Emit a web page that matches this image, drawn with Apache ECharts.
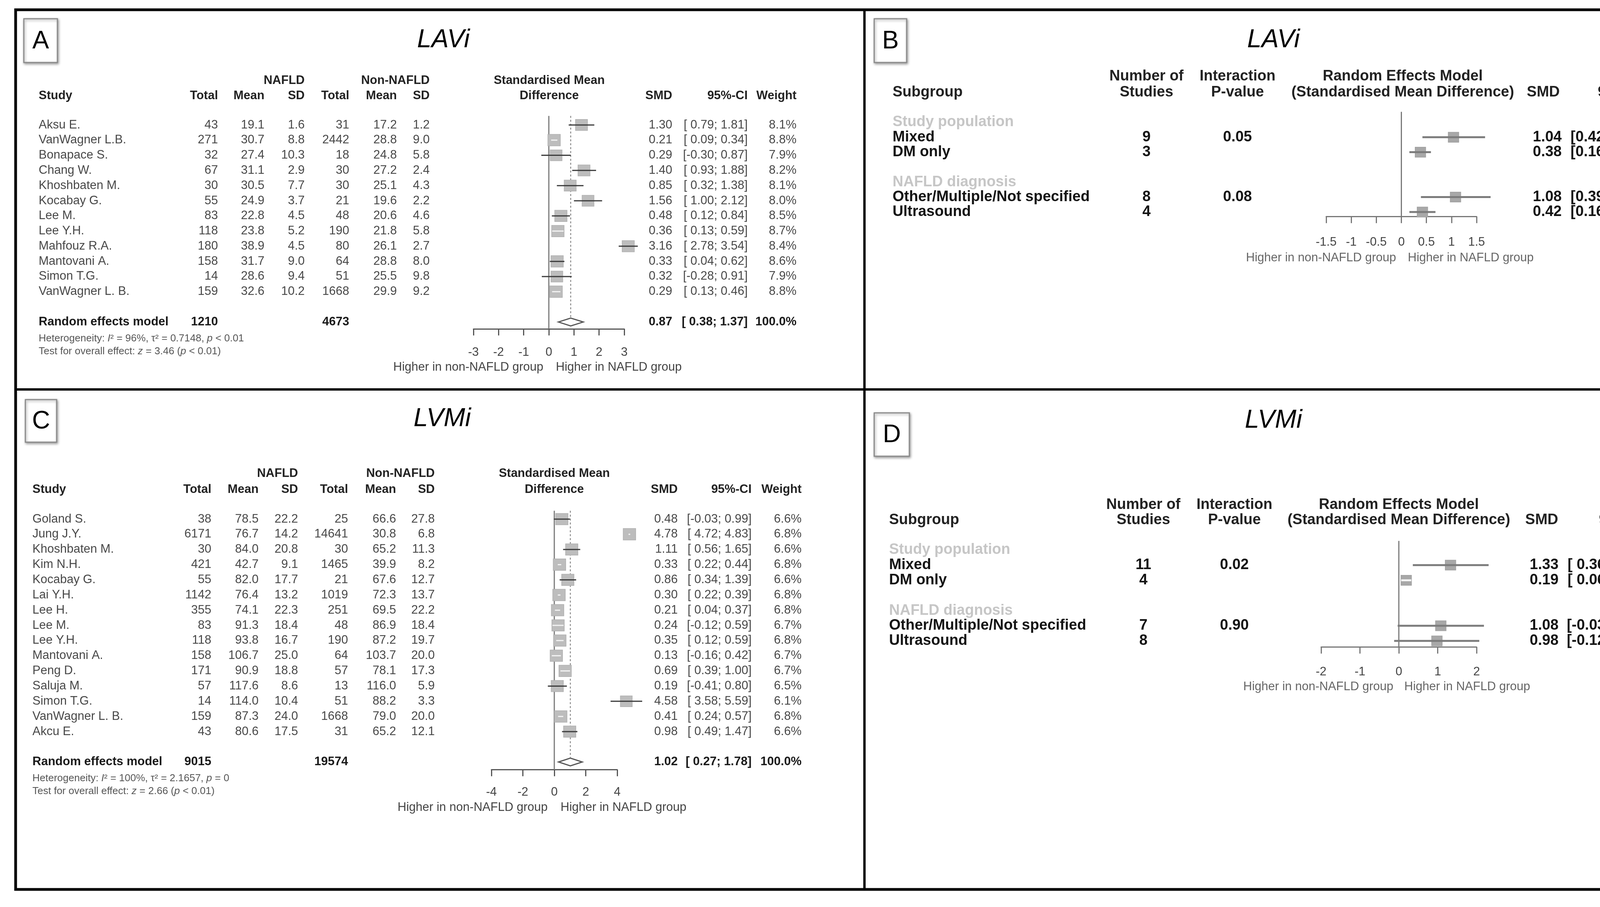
<!DOCTYPE html>
<html><head><meta charset="utf-8">
<script src="https://cdn.jsdelivr.net/npm/echarts@6/dist/echarts.min.js"></script>
<style>html,body{margin:0;padding:0;background:#fff}#c{width:4355px;height:2322px}</style>
</head><body><div id="c"></div>
<script>
// ---------- Panel A (LAVi) ----------
const studiesA = ['Aksu E.','VanWagner L.B.','Bonapace S.','Chang W.','Khoshbaten M.','Kocabay G.','Lee M.','Lee Y.H.','Mahfouz R.A.','Mantovani A.','Simon T.G.','VanWagner L. B.'];
const nTotA = [43,271,32,67,30,55,83,118,180,158,14,159];
const nMeanA = [19.1,30.7,27.4,31.1,30.5,24.9,22.8,23.8,38.9,31.7,28.6,32.6];
const nSdA = [1.6,8.8,10.3,2.9,7.7,3.7,4.5,5.2,4.5,9.0,9.4,10.2];
const cTotA = [31,2442,18,30,30,21,48,190,80,64,51,1668];
const cMeanA = [17.2,28.8,24.8,27.2,25.1,19.6,20.6,21.8,26.1,28.8,25.5,29.9];
const cSdA = [1.2,9.0,5.8,2.4,4.3,2.2,4.6,5.8,2.7,8.0,9.8,9.2];
const smdA = [1.30,0.21,0.29,1.40,0.85,1.56,0.48,0.36,3.16,0.33,0.32,0.29];
const loA = [0.79,0.09,-0.30,0.93,0.32,1.00,0.12,0.13,2.78,0.04,-0.28,0.13];
const hiA = [1.81,0.34,0.87,1.88,1.38,2.12,0.84,0.59,3.54,0.62,0.91,0.46];
const wA = [8.1,8.8,7.9,8.2,8.1,8.0,8.5,8.7,8.4,8.6,7.9,8.8];
const sumA = {nTot:1210, cTot:4673, smd:0.87, lo:0.38, hi:1.37, w:100.0};
const hetA = {i2:'96%', tau2:'0.7148', p:'< 0.01', z:'3.46', pz:'< 0.01'};
const ticksA = {min:-3, max:3, step:1};

// ---------- Panel C (LVMi) ----------
const studiesC = ['Goland S.','Jung J.Y.','Khoshbaten M.','Kim N.H.','Kocabay G.','Lai Y.H.','Lee H.','Lee M.','Lee Y.H.','Mantovani A.','Peng D.','Saluja M.','Simon T.G.','VanWagner L. B.','Akcu E.'];
const nTotC = [38,6171,30,421,55,1142,355,83,118,158,171,57,14,159,43];
const nMeanC = [78.5,76.7,84.0,42.7,82.0,76.4,74.1,91.3,93.8,106.7,90.9,117.6,114.0,87.3,80.6];
const nSdC = [22.2,14.2,20.8,9.1,17.7,13.2,22.3,18.4,16.7,25.0,18.8,8.6,10.4,24.0,17.5];
const cTotC = [25,14641,30,1465,21,1019,251,48,190,64,57,13,51,1668,31];
const cMeanC = [66.6,30.8,65.2,39.9,67.6,72.3,69.5,86.9,87.2,103.7,78.1,116.0,88.2,79.0,65.2];
const cSdC = [27.8,6.8,11.3,8.2,12.7,13.7,22.2,18.4,19.7,20.0,17.3,5.9,3.3,20.0,12.1];
const smdC = [0.48,4.78,1.11,0.33,0.86,0.30,0.21,0.24,0.35,0.13,0.69,0.19,4.58,0.41,0.98];
const loC = [-0.03,4.72,0.56,0.22,0.34,0.22,0.04,-0.12,0.12,-0.16,0.39,-0.41,3.58,0.24,0.49];
const hiC = [0.99,4.83,1.65,0.44,1.39,0.39,0.37,0.59,0.59,0.42,1.00,0.80,5.59,0.57,1.47];
const wC = [6.6,6.8,6.6,6.8,6.6,6.8,6.8,6.7,6.8,6.7,6.7,6.5,6.1,6.8,6.6];
const sumC = {nTot:9015, cTot:19574, smd:1.02, lo:0.27, hi:1.78, w:100.0};
const hetC = {i2:'100%', tau2:'2.1657', p:'= 0', z:'2.66', pz:'< 0.01'};
const ticksC = {min:-4, max:4, step:2};

// ---------- Panel B (LAVi subgroups) ----------
const groupsB = ['Study population','NAFLD diagnosis'];
const subB = ['Mixed','DM only','Other/Multiple/Not specified','Ultrasound'];
const nStudB = [9,3,8,4];
const pIntB = ['0.05','','0.08',''];
const smdB = [1.04,0.38,1.08,0.42];
const loB = [0.42,0.16,0.39,0.16];
const hiB = [1.67,0.59,1.78,0.68];
const ticksB = {min:-1.5, max:1.5, step:0.5};

// ---------- Panel D (LVMi subgroups) ----------
const groupsD = ['Study population','NAFLD diagnosis'];
const subD = ['Mixed','DM only','Other/Multiple/Not specified','Ultrasound'];
const nStudD = [11,4,7,8];
const pIntD = ['0.02','','0.90',''];
const smdD = [1.33,0.19,1.08,0.98];
const loD = [0.36,0.06,-0.03,-0.12];
const hiD = [2.31,0.32,2.19,2.07];
const ticksD = {min:-2, max:2, step:1};

const FF = '"Liberation Sans", Arial, Helvetica, sans-serif';
const subRows = [1,2,5,6];   // row index of each subgroup in panels B / D
const groupRows = [0,4];

const chart = echarts.init(document.getElementById('c'));

function xAx(grid, t, margin, col) {
  return {type:'value', gridIndex:grid, min:t.min, max:t.max, interval:t.step,
    axisLine:{show:true, onZero:false, lineStyle:{color:col, width:3}},
    axisTick:{show:true, inside:false, length:17, lineStyle:{color:col, width:3}},
    axisLabel:{margin:margin, fontSize:31, color:'#444', fontFamily:FF},
    splitLine:{show:false}};
}
function yAx(grid, min, max) {
  return {type:'value', gridIndex:grid, inverse:true, min:min, max:max, show:false};
}

function forestRender(o) {
  return function (params, api) {
    const est = api.value(0), row = api.value(1), lo = api.value(2), hi = api.value(3), w = api.value(4);
    const p = api.coord([est, row]);
    const pl = api.coord([lo, row]);
    const ph = api.coord([hi, row]);
    const s = o.base * Math.sqrt(w / o.wmax);
    const sh = s * o.hr;
    const inside = pl[0] >= p[0] - s / 2 && ph[0] <= p[0] + s / 2;
    return {type:'group', children:[
      {type:'rect', shape:{x:p[0]-s/2, y:p[1]-sh/2, width:s, height:sh}, style:{fill:o.sq, stroke:o.sqs, lineWidth:1.5}},
      {type:'line', shape:{x1:pl[0], y1:p[1], x2:ph[0], y2:p[1]}, style:{stroke: inside ? '#f4f4f4' : o.line, lineWidth:o.lw}}
    ]};
  };
}
function refRender(params, api) {
  const a = api.coord([api.value(0), api.value(1)]);
  const b = api.coord([api.value(0), api.value(2)]);
  const dashed = api.value(3) === 1;
  return {type:'line', shape:{x1:a[0], y1:a[1], x2:b[0], y2:b[1]},
    style:{stroke: dashed ? '#8a8a8a' : '#7a7a7a', lineWidth: dashed ? 2.5 : 3, lineDash: dashed ? [5,5] : null}};
}
function diamondRender(params, api) {
  const c = api.coord([api.value(0), api.value(1)]);
  const l = api.coord([api.value(2), api.value(1)]);
  const h = api.coord([api.value(3), api.value(1)]);
  return {type:'polygon', shape:{points:[[l[0],c[1]],[c[0],c[1]-10],[h[0],c[1]],[c[0],c[1]+10]]},
    style:{fill:'#ffffff', stroke:'#555', lineWidth:3}};
}

const rowsA = smdA.map((v,i)=>[v, i, loA[i], hiA[i], wA[i]]);
const rowsC = smdC.map((v,i)=>[v, i, loC[i], hiC[i], wC[i]]);
const rowsB = smdB.map((v,i)=>[v, subRows[i], loB[i], hiB[i], 1]);
const rowsD = smdD.map((v,i)=>[v, subRows[i], loD[i], hiD[i], 1]);
const sumRowA = studiesA.length + 1;
const sumRowC = studiesC.length + 1;

const yA = [-0.6, 13.45], yC = [-0.55, 16.5], yB = [-0.7, 6.3], yD = [-0.6, 6.4];

chart.setOption({
  animation:false,
  backgroundColor:'#ffffff',
  grid:[
    {left:1212, top:296.7, width:386, height:545.1},
    {left:1258, top:1307.6, width:322, height:662.6},
    {left:3395, top:286.2, width:385, height:268.1},
    {left:3382, top:1384.7, width:398, height:271.6}
  ],
  xAxis:[xAx(0,ticksA,45,'#555'), xAx(1,ticksC,43,'#555'), xAx(2,ticksB,51,'#777'), xAx(3,ticksD,49,'#777')],
  yAxis:[yAx(0,yA[0],yA[1]), yAx(1,yC[0],yC[1]), yAx(2,yB[0],yB[1]), yAx(3,yD[0],yD[1])],
  series:[
    {type:'custom', xAxisIndex:0, yAxisIndex:0, z:1, renderItem:refRender, data:[[0,yA[0],yA[1],0],[sumA.smd,yA[0],sumRowA-0.3,1]]},
    {type:'custom', xAxisIndex:0, yAxisIndex:0, z:3, renderItem:forestRender({base:32, wmax:8.8, hr:0.92, sq:'#bdbdbd', sqs:'#b0b0b0', line:'#3a3a3a', lw:3}), data:rowsA},
    {type:'custom', xAxisIndex:0, yAxisIndex:0, z:3, renderItem:diamondRender, data:[[sumA.smd, sumRowA, sumA.lo, sumA.hi]]},
    {type:'custom', xAxisIndex:1, yAxisIndex:1, z:1, renderItem:refRender, data:[[0,yC[0],yC[1],0],[sumC.smd,yC[0],sumRowC-0.3,1]]},
    {type:'custom', xAxisIndex:1, yAxisIndex:1, z:3, renderItem:forestRender({base:32, wmax:6.8, hr:0.92, sq:'#bdbdbd', sqs:'#b0b0b0', line:'#3a3a3a', lw:3}), data:rowsC},
    {type:'custom', xAxisIndex:1, yAxisIndex:1, z:3, renderItem:diamondRender, data:[[sumC.smd, sumRowC, sumC.lo, sumC.hi]]},
    {type:'custom', xAxisIndex:2, yAxisIndex:2, z:1, renderItem:refRender, data:[[0,yB[0],yB[1],0]]},
    {type:'custom', xAxisIndex:2, yAxisIndex:2, z:3, renderItem:forestRender({base:27, wmax:1, hr:0.95, sq:'#a8a8a8', sqs:'#a0a0a0', line:'#7c7c7c', lw:5}), data:rowsB},
    {type:'custom', xAxisIndex:3, yAxisIndex:3, z:1, renderItem:refRender, data:[[0,yD[0],yD[1],0]]},
    {type:'custom', xAxisIndex:3, yAxisIndex:3, z:3, renderItem:forestRender({base:27, wmax:1, hr:0.95, sq:'#a8a8a8', sqs:'#a0a0a0', line:'#7c7c7c', lw:5}), data:rowsD}
  ]
});

// ---------- texts ----------
function rowY(g, r) { return chart.convertToPixel({gridIndex:g}, [0, r])[1]; }
function T(text, x, y, o) {
  o = o || {};
  return {type:'text', silent:true, z:10, style:{text:String(text), x:x, y:y,
    fill:o.fill || '#484848',
    font:(o.italic?'italic ':'') + (o.bold?'bold ':'') + (o.size||31) + 'px ' + FF,
    align:o.align || 'left', verticalAlign:'middle'}};
}
function R(parts, x, y, size, fill) {
  let txt = '';
  parts.forEach((p,i)=>{ txt += '{' + (p[1] ? 'i' : 'n') + '|' + p[0] + '}'; });
  return {type:'text', silent:true, z:10, style:{text:txt, x:x, y:y, verticalAlign:'middle', align:'left',
    rich:{n:{font:size+'px '+FF, fill:fill}, i:{font:'italic '+size+'px '+FF, fill:fill}}}};
}
const f1 = v => v.toFixed(1);
const f2 = v => v.toFixed(2);
const ci = (lo, hi, pad) => '[' + (pad && lo >= 0 ? ' ' : '') + f2(lo) + '; ' + f2(hi) + ']';

const G = [];
// frame
G.push({type:'rect', z:20, silent:true, shape:{x:40, y:25, width:4272, height:2252}, style:{fill:'none', stroke:'#000', lineWidth:7}});
G.push({type:'line', z:20, silent:true, shape:{x1:2213, y1:25, x2:2213, y2:2277}, style:{stroke:'#000', lineWidth:6}});
G.push({type:'line', z:20, silent:true, shape:{x1:40, y1:997, x2:4312, y2:997}, style:{stroke:'#000', lineWidth:6}});
// letter boxes
function box(letter, x, y, w, h) {
  G.push({type:'rect', z:15, silent:true, shape:{x:x, y:y, width:w, height:h},
    style:{fill:'#fff', stroke:'#8a8a8a', lineWidth:3, shadowBlur:6, shadowColor:'rgba(0,0,0,0.35)', shadowOffsetX:2, shadowOffsetY:3}});
  G.push(Object.assign(T(letter, x + w/2, y + h/2 + 2, {size:64, fill:'#000', align:'center'}), {z:16}));
}
box('A', 61, 48, 86, 112);
box('B', 2238, 48, 83, 112);
box('C', 65, 1023, 80, 109);
box('D', 2238, 1057, 90, 111);
// titles
G.push(T('LAVi', 1135, 103, {size:66, italic:true, fill:'#000', align:'center'}));
G.push(T('LVMi', 1132, 1073, {size:66, italic:true, fill:'#000', align:'center'}));
G.push(T('LAVi', 3260, 103, {size:66, italic:true, fill:'#000', align:'center'}));
G.push(T('LVMi', 3260, 1077, {size:66, italic:true, fill:'#000', align:'center'}));

function studyPanel(g, P) {
  const H = {bold:true, fill:'#222'};
  const hr = (o) => Object.assign({}, H, o);
  G.push(T('NAFLD', P.x.sd1, P.h1, hr({align:'right'})));
  G.push(T('Non-NAFLD', P.x.sd2, P.h1, hr({align:'right'})));
  G.push(T('Standardised Mean', P.x.mid, P.h1, hr({align:'center'})));
  G.push(T('Study', P.x.name, P.h2, H));
  G.push(T('Total', P.x.tot1, P.h2, hr({align:'right'})));
  G.push(T('Mean', P.x.mean1, P.h2, hr({align:'right'})));
  G.push(T('SD', P.x.sd1, P.h2, hr({align:'right'})));
  G.push(T('Total', P.x.tot2, P.h2, hr({align:'right'})));
  G.push(T('Mean', P.x.mean2, P.h2, hr({align:'right'})));
  G.push(T('SD', P.x.sd2, P.h2, hr({align:'right'})));
  G.push(T('Difference', P.x.mid, P.h2, hr({align:'center'})));
  G.push(T('SMD', P.x.smd, P.h2, hr({align:'right'})));
  G.push(T('95%-CI', P.x.ci, P.h2, hr({align:'right'})));
  G.push(T('Weight', P.x.w, P.h2, hr({align:'right'})));
  const D = P.d;
  D.names.forEach((nm, i) => {
    const y = rowY(g, i);
    G.push(T(nm, P.x.name, y));
    G.push(T(D.nt[i], P.x.tot1, y, {align:'right'}));
    G.push(T(f1(D.nm[i]), P.x.mean1, y, {align:'right'}));
    G.push(T(f1(D.ns[i]), P.x.sd1, y, {align:'right'}));
    G.push(T(D.ct[i], P.x.tot2, y, {align:'right'}));
    G.push(T(f1(D.cm[i]), P.x.mean2, y, {align:'right'}));
    G.push(T(f1(D.cs[i]), P.x.sd2, y, {align:'right'}));
    G.push(T(f2(D.smd[i]), P.x.smd, y, {align:'right'}));
    G.push(T(ci(D.lo[i], D.hi[i], true), P.x.ci, y, {align:'right'}));
    G.push(T(f1(D.w[i]) + '%', P.x.w, y, {align:'right'}));
  });
  const sr = D.names.length + 1;
  const ys = rowY(g, sr);
  const B = {bold:true, fill:'#1a1a1a'};
  G.push(T('Random effects model', P.x.name, ys, B));
  G.push(T(D.sum.nTot, P.x.tot1, ys, Object.assign({align:'right'}, B)));
  G.push(T(D.sum.cTot, P.x.tot2, ys, Object.assign({align:'right'}, B)));
  G.push(T(f2(D.sum.smd), P.x.smd, ys, Object.assign({align:'right'}, B)));
  G.push(T(ci(D.sum.lo, D.sum.hi, true), P.x.ci, ys, Object.assign({align:'right'}, B)));
  G.push(T(f1(D.sum.w) + '%', P.x.w, ys, Object.assign({align:'right'}, B)));
  const h = D.het;
  G.push(R([['Heterogeneity: '],['I',1],['² = ' + h.i2 + ', τ² = ' + h.tau2 + ', '],['p',1],[' ' + h.p]], P.x.name, ys + 42, 26, '#555'));
  G.push(R([['Test for overall effect: '],['z',1],[' = ' + h.z + ' ('],['p',1],[' ' + h.pz + ')']], P.x.name, ys + 75, 26, '#555'));
  G.push(T('Higher in non-NAFLD group', P.x.hl, P.hy, {align:'right', fill:'#444'}));
  G.push(T('Higher in NAFLD group', P.x.hr, P.hy, {fill:'#444'}));
}

studyPanel(0, {h1:206, h2:245, hy:940,
  x:{name:99, tot1:558, mean1:677, sd1:780, tot2:894, mean2:1016, sd2:1100, mid:1406, smd:1721, ci:1914, w:2039, hl:1391, hr:1423},
  d:{names:studiesA, nt:nTotA, nm:nMeanA, ns:nSdA, ct:cTotA, cm:cMeanA, cs:cSdA, smd:smdA, lo:loA, hi:hiA, w:wA, sum:sumA, het:hetA}});
studyPanel(1, {h1:1212, h2:1253, hy:2067,
  x:{name:83, tot1:541, mean1:662, sd1:763, tot2:891, mean2:1014, sd2:1113, mid:1419, smd:1735, ci:1924, w:2052, hl:1402, hr:1435},
  d:{names:studiesC, nt:nTotC, nm:nMeanC, ns:nSdC, ct:cTotC, cm:cMeanC, cs:cSdC, smd:smdC, lo:loC, hi:hiC, w:wC, sum:sumC, het:hetC}});

function subPanel(g, P) {
  const H = {bold:true, fill:'#222', size:38};
  const hc = (o) => Object.assign({}, H, o);
  G.push(T('Number of', P.x.n, P.h1, hc({align:'center'})));
  G.push(T('Interaction', P.x.p, P.h1, hc({align:'center'})));
  G.push(T('Random Effects Model', P.x.mid, P.h1, hc({align:'center'})));
  G.push(T('Subgroup', P.x.name, P.h2, H));
  G.push(T('Studies', P.x.n, P.h2, hc({align:'center'})));
  G.push(T('P-value', P.x.p, P.h2, hc({align:'center'})));
  G.push(T('(Standardised Mean Difference)', P.x.mid, P.h2, hc({align:'center'})));
  G.push(T('SMD', P.x.smdH, P.h2, hc({align:'right'})));
  G.push(T('95%-CI', P.x.ci, P.h2, hc({align:'right'})));
  const D = P.d;
  D.groups.forEach((gname, i) => {
    G.push(T(gname, P.x.name, rowY(g, groupRows[i]), {bold:true, size:38, fill:'#c6c6c6'}));
  });
  const V = {bold:true, size:38, fill:'#141414'};
  D.subs.forEach((s, i) => {
    const y = rowY(g, subRows[i]);
    G.push(T(s, P.x.name, y, V));
    G.push(T(D.n[i], P.x.n, y, Object.assign({align:'center'}, V)));
    if (D.p[i]) G.push(T(D.p[i], P.x.p, y, Object.assign({align:'center'}, V)));
    G.push(T(f2(D.smd[i]), P.x.smd, y, Object.assign({align:'right'}, V)));
    G.push(T(ci(D.lo[i], D.hi[i], P.pad), P.x.ci, y, Object.assign({align:'right'}, V)));
  });
  G.push(T('Higher in non-NAFLD group', P.x.hl, P.hy, {align:'right', fill:'#666'}));
  G.push(T('Higher in NAFLD group', P.x.hr, P.hy, {fill:'#666'}));
}
subPanel(2, {h1:196, h2:237, hy:660, pad:false,
  x:{name:2285, n:2935, p:3168, mid:3591, smdH:3993, smd:3998, ci:4217, hl:3574, hr:3604},
  d:{groups:groupsB, subs:subB, n:nStudB, p:pIntB, smd:smdB, lo:loB, hi:hiB}});
subPanel(3, {h1:1293, h2:1332, hy:1758, pad:true,
  x:{name:2276, n:2927, p:3160, mid:3581, smdH:3989, smd:3990, ci:4220, hl:3567, hr:3595},
  d:{groups:groupsD, subs:subD, n:nStudD, p:pIntD, smd:smdD, lo:loD, hi:hiD}});

chart.setOption({graphic:{elements:G}});
</script>
</body></html>
